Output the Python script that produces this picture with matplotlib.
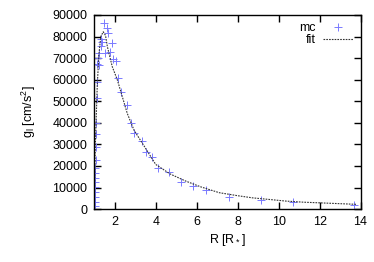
import matplotlib
matplotlib.use("Agg")
import matplotlib.pyplot as plt

plt.rcParams["font.family"] = ["Liberation Sans", "DejaVu Sans"]
plt.rcParams["mathtext.default"] = "regular"

# monte-carlo points (R in stellar radii, g in cm/s^2)
R_mc = [1.01, 1.02, 1.02, 1.03, 1.03, 1.04, 1.04, 1.05, 1.05, 1.06, 1.07,
        1.07, 1.08, 1.10, 1.12, 1.15, 1.15, 1.20, 1.23, 1.23, 1.32, 1.35,
        1.40, 1.48, 1.53, 1.64, 1.69, 1.76, 1.88, 1.92, 2.05, 2.18, 2.29,
        2.62, 2.78, 2.94, 3.35, 3.51, 3.80, 4.13, 4.65, 5.22, 5.80, 6.45,
        7.56, 9.14, 10.71, 13.69]
g_mc = [0, 1500, 3400, 5700, 8000, 10300, 12700, 14400, 16700, 19000, 22700,
        28900, 34600, 39700, 51300, 59000, 67100, 69900, 72500, 66800, 78700,
        75600, 77600, 86100, 72500, 83800, 81800, 73000, 76800, 69400, 68800,
        60600, 54400, 48200, 39700, 35100, 31500, 26600, 24100, 19200, 17300,
        12700, 10700, 8700, 5700, 4200, 3200, 1900]

# fit curve
R_fit = [1.0, 1.03, 1.07, 1.15, 1.23, 1.32, 1.44, 1.55, 1.64, 1.88, 2.13,
         2.37, 2.61, 2.94, 3.35, 4.0, 4.7, 5.46, 6.2, 7.1, 8.0, 8.73, 9.5,
         10.36, 11.2, 11.98, 13.0, 13.8]
g_fit = [0, 20000, 35000, 58000, 72000, 80000, 82200, 80500, 75300, 66000,
         59800, 52100, 44400, 36600, 30500, 20700, 16300, 13000, 10300, 7600,
         6200, 5200, 4500, 3700, 3200, 2900, 2500, 2200]

x_ticks = [2, 4, 6, 8, 10, 12, 14]
y_ticks = list(range(0, 90001, 10000))

fig = plt.figure(figsize=(3.74, 2.62), dpi=100)
ax = fig.add_axes([0.252, 0.202, 0.712, 0.741])

ax.plot(R_mc, g_mc, ls="none", marker="+", ms=6, mew=0.7,
        color="#7a7aff", label="mc")
ax.plot(R_fit, g_fit, color="#333333", lw=0.8, ls=(0, (1.5, 1)), label="fit")

ax.set_xlim(1, 14)
ax.set_ylim(0, 90000)
ax.set_xticks(x_ticks)
ax.set_yticks(y_ticks)
ax.tick_params(direction="in", length=5, width=1.0, top=True, right=True,
               labelsize=9, pad=5)
for s in ax.spines.values():
    s.set_linewidth(1.0)

ax.set_xlabel(r"R [R$_*$]", fontsize=9, labelpad=3)
ax.set_ylabel(r"g$_l$ [cm/s$^2$]", fontsize=9, labelpad=10)

ax.legend(loc="upper right", frameon=False, markerfirst=False, fontsize=9,
          handlelength=2.4, borderaxespad=0.2, labelspacing=0.0,
          handletextpad=0.6)

fig.savefig("out.png", dpi=100)
